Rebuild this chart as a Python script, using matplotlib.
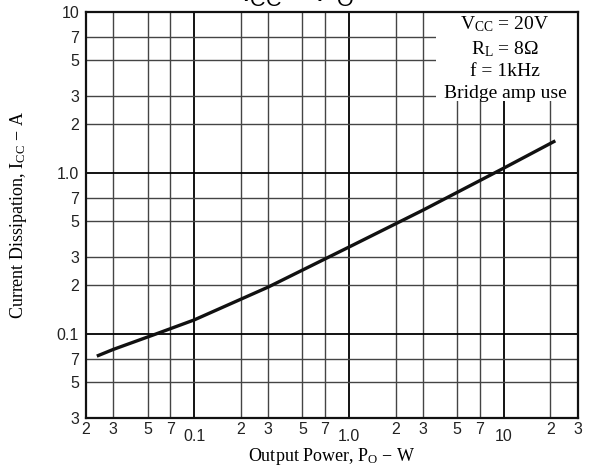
import matplotlib
matplotlib.use("Agg")
import matplotlib.pyplot as plt
import matplotlib.transforms as mtransforms
from matplotlib.patches import Rectangle

plt.rcParams['mathtext.fontset'] = 'custom'
plt.rcParams['mathtext.rm'] = 'Liberation Serif'
plt.rcParams['mathtext.it'] = 'Liberation Serif'
plt.rcParams['mathtext.sf'] = 'Liberation Sans'

# curve (log-log)
po = [0.0235, 0.03, 0.057, 0.1, 0.3, 1.0, 3.0, 10.0, 21.5]
icc = [0.0727, 0.080, 0.100, 0.122, 0.195, 0.346, 0.586, 1.07, 1.58]

x_ticks = [0.02, 0.03, 0.05, 0.07, 0.1, 0.2, 0.3, 0.5, 0.7, 1.0,
           2, 3, 5, 7, 10, 20, 30]
x_labels = ['2', '3', '5', '7', '0.1', '2', '3', '5', '7', '1.0',
            '2', '3', '5', '7', '10', '2', '3']
y_ticks = [0.03, 0.05, 0.07, 0.1, 0.2, 0.3, 0.5, 0.7, 1.0, 2, 3, 5, 7, 10]
y_labels = ['3', '5', '7', '0.1', '2', '3', '5', '7', '1.0', '2', '3', '5', '7', '10']
decades = [0.1, 1.0, 10]

fig = plt.figure(figsize=(5.95, 4.68), dpi=100)
ax = fig.add_axes([0.1445, 0.1068, 0.8265, 0.868])
ax.set_xscale('log')
ax.set_yscale('log')
ax.set_xlim(0.02, 30)
ax.set_ylim(0.03, 10)

# grid
for v in x_ticks[1:-1]:
    if v in decades:
        ax.axvline(v, color='black', lw=1.3, zorder=0.5)
    else:
        ax.axvline(v, color='#444444', lw=1.0, zorder=0.5)
for v in y_ticks[1:-1]:
    if v in decades:
        ax.axhline(v, color='black', lw=1.3, zorder=0.5)
    else:
        ax.axhline(v, color='#444444', lw=1.0, zorder=0.5)

ax.add_patch(Rectangle((0.711, 0.78), 0.289, 0.22, transform=ax.transAxes,
                       facecolor='white', edgecolor='none', zorder=1))

ax.plot(po, icc, color='#111111', lw=2.4, solid_capstyle='butt', zorder=3)

ax.xaxis.set_major_locator(matplotlib.ticker.FixedLocator(x_ticks))
ax.xaxis.set_minor_locator(matplotlib.ticker.NullLocator())
ax.set_xticklabels(x_labels)
ax.yaxis.set_major_locator(matplotlib.ticker.FixedLocator(y_ticks))
ax.yaxis.set_minor_locator(matplotlib.ticker.NullLocator())
ax.set_yticklabels(y_labels)
ax.tick_params(length=0, labelsize=11.5, pad=3)
ax.tick_params(axis='y', pad=5)
for lab in ax.get_xticklabels() + ax.get_yticklabels():
    lab.set_fontfamily('Liberation Sans')
    lab.set_color('#222222')
# decade labels on x sit a bit lower
for lab, v in zip(ax.get_xticklabels(), x_ticks):
    if v in decades:
        lab.set_transform(lab.get_transform() +
                          mtransforms.ScaledTranslation(0, -5 / 72, fig.dpi_scale_trans))

for sp in ax.spines.values():
    sp.set_linewidth(1.6)
    sp.set_color('#111111')

ax.set_xlabel(r'Output Power, P$_\mathrm{O}$ $-$ W', fontfamily='Liberation Serif',
              fontsize=13, labelpad=1)
ax.set_ylabel(r'Current Dissipation, I$_\mathrm{CC}$ $-$ A', fontfamily='Liberation Serif',
              fontsize=13, labelpad=20)

ax.text(0.852, 0.994, r'V$_\mathrm{CC}$ = 20V' + '\n' + r'R$_\mathrm{L}$ = 8$\Omega$' + '\n'
        + 'f = 1kHz\nBridge amp use', transform=ax.transAxes, ha='center', va='top',
        multialignment='center', fontfamily='Liberation Serif', fontsize=14,
        linespacing=1.35, zorder=4)

fig.text(0.5, 0.995, r'$\mathsf{I_{CC}}$ $-$ $\mathsf{P_O}$', ha='center', va='baseline',
         fontfamily='Liberation Sans', fontsize=22)

fig.savefig('out.png', dpi=100)
